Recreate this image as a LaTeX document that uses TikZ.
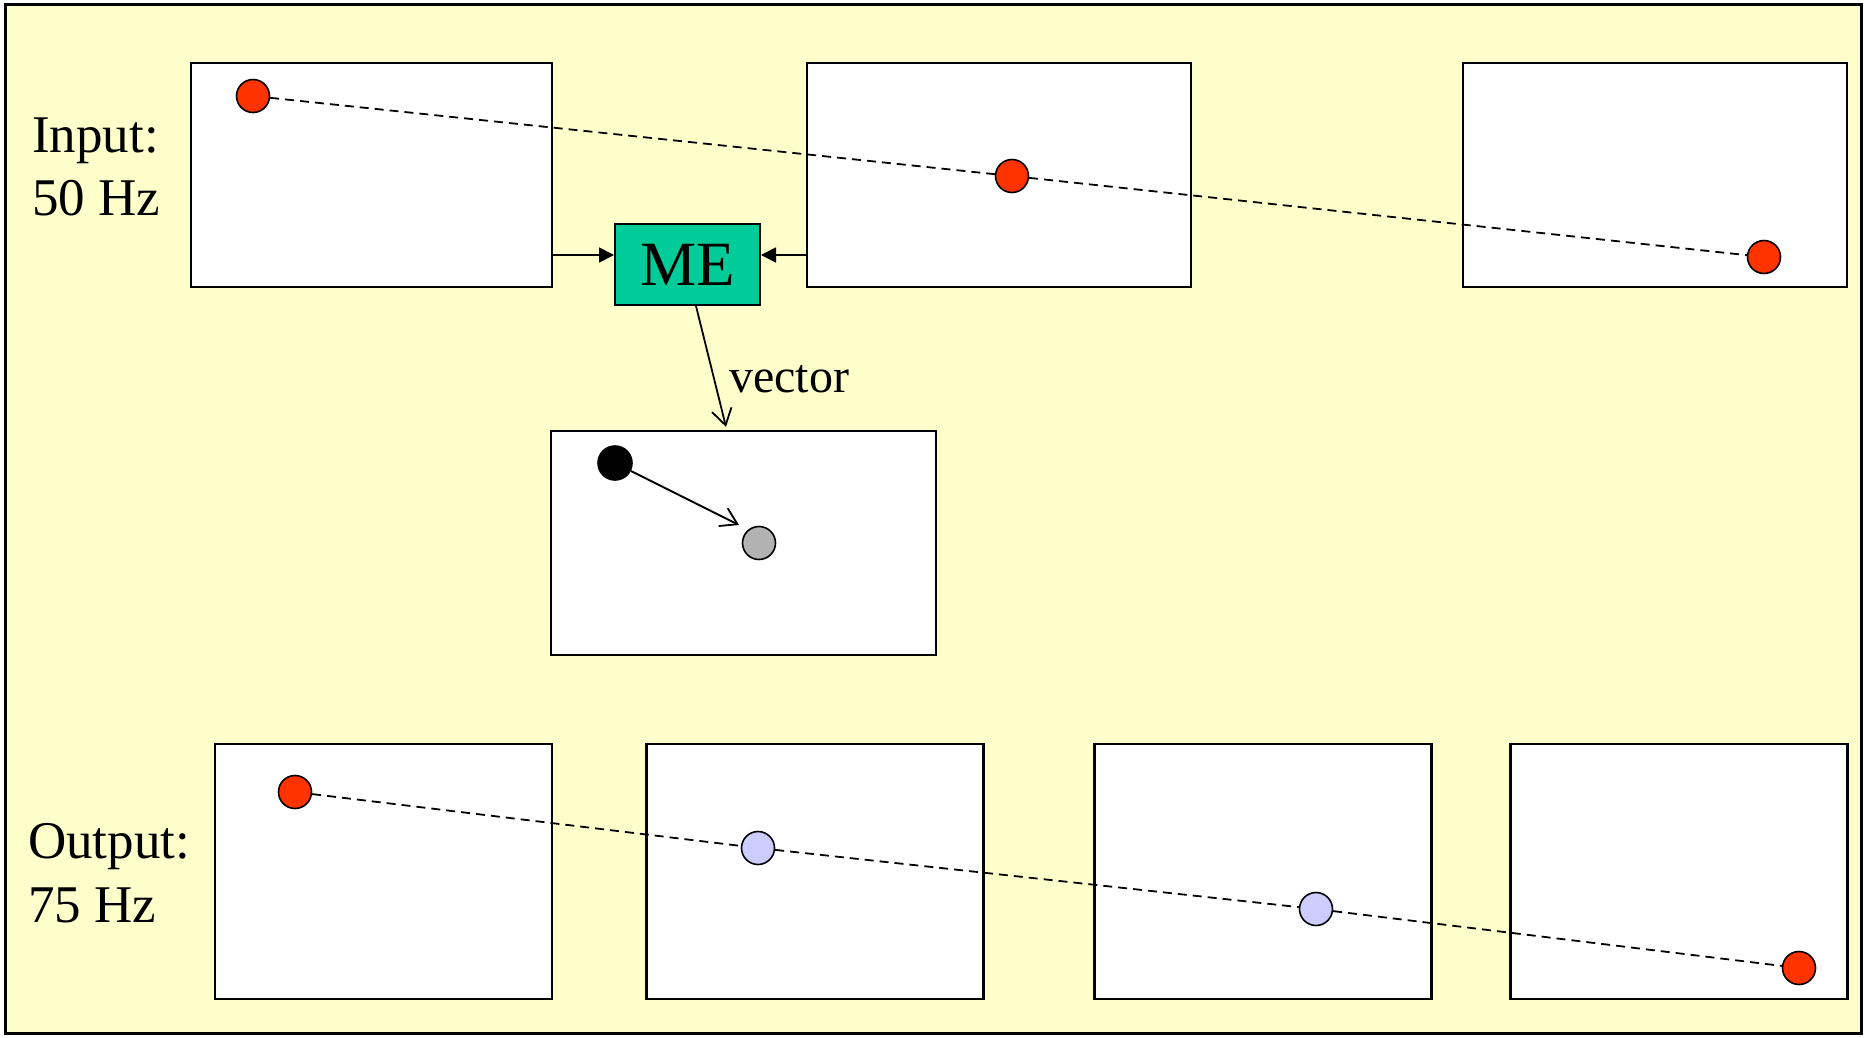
\documentclass[tikz,border=0pt]{standalone}
\usepackage{fontspec}
\setmainfont{Liberation Serif}
\usetikzlibrary{arrows.meta}
\definecolor{paper}{HTML}{FFFFCC}
\definecolor{megreen}{HTML}{00CC99}
\definecolor{dotred}{HTML}{FF3300}
\definecolor{dotlav}{HTML}{CCCCFF}
\definecolor{dotgray}{HTML}{B2B2B2}
\tikzset{
  frame/.style={draw=black,fill=white,line width=2.2pt,inner sep=0pt},
  dot/.style={circle,draw=black,line width=1.6pt,minimum size=33pt,inner sep=0pt},
  path/.style={dashed,line width=1.8pt,dash pattern=on 9pt off 6pt},
  lab/.style={inner sep=0pt,anchor=base west,font=\fontsize{53}{63}\selectfont},
  feed/.style={line width=1.8pt,-{Triangle[length=15pt,width=15pt]}},
  barb/.style={line width=1.8pt,-{Straight Barb[length=16pt,width=20pt,line width=1.8pt]}}
}
\begin{document}
\begin{tikzpicture}[x=1pt,y=-1pt]
\useasboundingbox (0,0) rectangle (1864,1037);
% background panel
\draw[fill=paper,line width=3pt] (5,4) rectangle (1861,1033);

% input frames (50 Hz)
\node[frame,minimum width=361pt,minimum height=224pt] (in1) at (371.5,175) {};
\node[frame,minimum width=384pt,minimum height=224pt] (in2) at (999,175) {};
\node[frame,minimum width=384pt,minimum height=224pt] (in3) at (1655,175) {};

% motion estimation block
\node[draw=black,fill=megreen,line width=2pt,minimum width=145pt,minimum height=81pt,inner sep=0pt,
      font=\fontsize{63}{63}\selectfont] (me) at (687.5,264.5) {ME};

% vector frame
\node[frame,minimum width=385pt,minimum height=224pt] (vec) at (743.5,543) {};

% output frames (75 Hz)
\node[frame,minimum width=337pt,minimum height=255pt] (out1) at (383.5,871.5) {};
\node[frame,minimum width=337pt,minimum height=255pt] (out2) at (815,871.5) {};
\node[frame,minimum width=337pt,minimum height=255pt] (out3) at (1263,871.5) {};
\node[frame,minimum width=337pt,minimum height=255pt] (out4) at (1679,871.5) {};

% labels
\node[lab] (inlab1) at (32,152) {Input:};
\node[lab] (inlab2) at (32,215) {50 Hz};
\node[lab] (outlab1) at (28,858) {Output:};
\node[lab] (outlab2) at (28,922) {75 Hz};

% object positions
\node[dot,fill=dotred] (a1) at (253,96) {};
\node[dot,fill=dotred] (a2) at (1012,176) {};
\node[dot,fill=dotred] (a3) at (1764,257) {};
\node[dot,fill=dotred] (b1) at (295,792) {};
\node[dot,fill=dotlav] (b2) at (758,848) {};
\node[dot,fill=dotlav] (b3) at (1316,909) {};
\node[dot,fill=dotred] (b4) at (1799,968) {};
\node[dot,fill=black,minimum size=34pt] (c1) at (615,463) {};
\node[dot,fill=dotgray] (c2) at (759,543) {};

% trajectories
\draw[path] (a1) -- (a2) -- (a3);
\draw[path] (b1) -- (b2) -- (b3) -- (b4);

% frames into ME
\coordinate (mein) at ([yshift=9.5pt]me.west);
\coordinate (meout) at ([yshift=9.5pt]me.east);
\draw[feed] (in1.east |- mein) -- (mein);
\draw[feed] (in2.west |- meout) -- (meout);

% vector output
\coordinate (vtip) at ([xshift=-17.5pt,yshift=3pt]vec.north);
\draw[barb] ([xshift=8.5pt]me.south) -- (vtip);
\node[inner sep=0pt,anchor=base west,font=\fontsize{48}{48}\selectfont] (vlab) at (729,392) {vector};

% motion vector
\coordinate (mtip) at ([xshift=-20pt,yshift=18pt]c2.center);
\draw[barb] (c1) -- (mtip);
\end{tikzpicture}
\end{document}
